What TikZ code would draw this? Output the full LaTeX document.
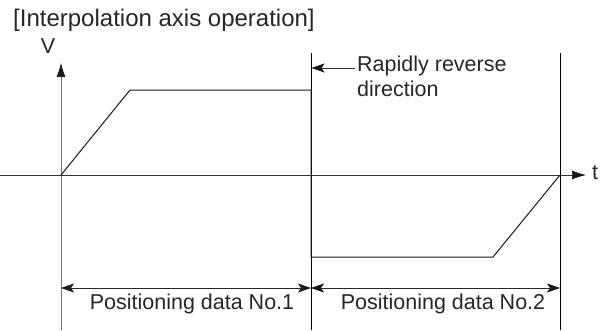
\documentclass[tikz,border=0pt]{standalone}
\usepackage{fontspec}
\setmainfont{Liberation Sans}
\usetikzlibrary{arrows.meta}
\tikzset{
  axistip/.tip={Latex[length=14pt,width=9pt,color=black!90]},
  dimtip/.tip={Stealth[length=13pt,width=9pt,inset=3pt,color=black!90]}}
\begin{document}
\begin{tikzpicture}[x=1pt,y=-1pt,
  axis/.style={draw=black!55,line width=0.7pt},
  guide/.style={draw=black,line width=0.8pt},
  profile/.style={draw=black!90,line width=1pt,line join=miter},
  dim/.style={draw=black!85,line width=0.7pt,dimtip-dimtip},
  lbl/.style={font=\fontsize{21.5}{25}\selectfont,text=black!85,inner sep=0pt}]
\useasboundingbox (0,0) rectangle (607,330);

% title
\node[lbl,font=\fontsize{24}{27}\selectfont,anchor=west] (title) at (13,20) {[Interpolation axis operation]};

% key points of the time axis and the guide lines
\coordinate (o) at (61,175);
\coordinate (vtop) at (61,63);
\coordinate (vbot) at (61,330);
\coordinate (tleft) at (0,175);
\coordinate (tend) at (586,175);
\coordinate (m1top) at (311,53);
\coordinate (m1bot) at (311,330);
\coordinate (m2top) at (560,53);
\coordinate (m2bot) at (560,330);

% axes
\draw[axis,-axistip] (vbot) -- (vtop);
\draw[axis,draw=black!80,-axistip] (tleft) -- (tend);
\node[lbl,anchor=center] (vlab) at (48,46) {V};
\node[lbl,anchor=west] (tlab) at (592,173) {t};

% boundaries between the two positioning data
\draw[guide] (m1top) -- (m1bot);
\draw[guide] (m2top) -- (m2bot);

% speed profile
\coordinate (p1) at (130,90);
\coordinate (p2) at (311,90);
\coordinate (p3) at (311,257);
\coordinate (p4) at (493,257);
\coordinate (p5) at (560,175);
\draw[profile] (o) -- (p1) -- (p2) -- (p3) -- (p4) -- (p5);

% annotation of the reversal
\node[lbl,anchor=north west,align=left] (rev) at (357,56) {Rapidly reverse\\direction};
\coordinate (revtip) at (311.5,68);
\draw[axis,draw=black!80,-dimtip] (355,68) -- (revtip);

% dimension arrows for the two data
\coordinate (d0) at (61,288);
\coordinate (d1) at (311,288);
\coordinate (d2) at (560,288);
\draw[dim] (d0) -- (d1);
\draw[dim] (d1) -- (d2);
\node[lbl] (pd1) at (192,304) {Positioning data No.1};
\node[lbl] (pd2) at (443,304) {Positioning data No.2};
\end{tikzpicture}
\end{document}
